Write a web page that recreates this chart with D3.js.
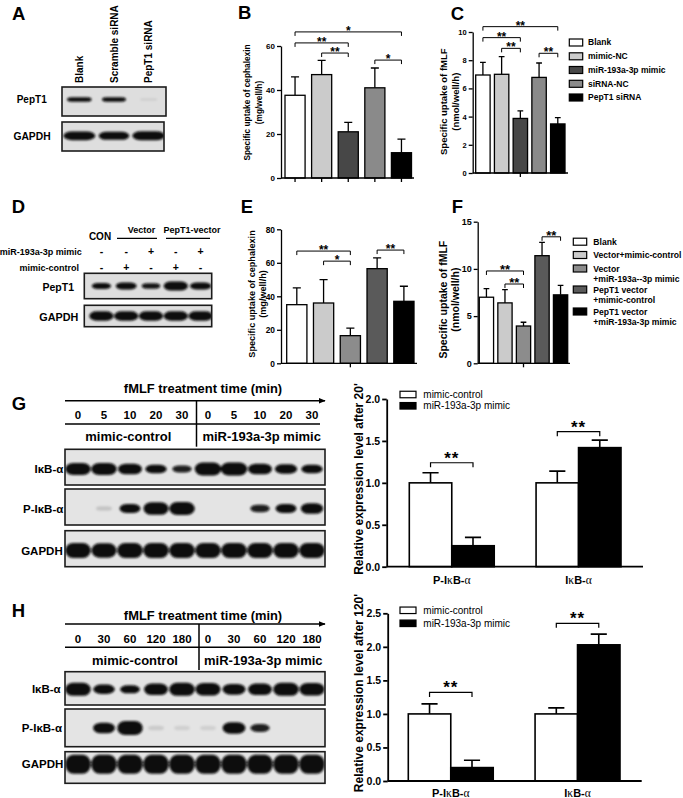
<!DOCTYPE html>
<html><head><meta charset="utf-8">
<script src="https://cdn.jsdelivr.net/npm/d3@7"></script>
<style>
body{margin:0;background:#fff;}
svg{display:block;font-family:"Liberation Sans",Arial,Helvetica,sans-serif;}
</style></head><body>
<svg id="fig" width="683" height="798"></svg>
<script>
// ================= DATA =================
// Panel A blot
const laneA = ["Blank", "Scramble  siRNA", "PepT1 siRNA"];
const blotA_PepT1 = [0.7, 0.65, 0.04];
const blotA_GAPDH = [0.95, 0.85, 1.0];
// Panel B / C (uptake, knock-down)
const groupsBC = ["Blank", "mimic-NC", "miR-193a-3p mimic", "siRNA-NC", "PepT1 siRNA"];
const cephalexinB = [37.6, 47, 21, 41, 11.5];
const cephalexinBErr = [8.4, 6.5, 4.3, 9, 6.2];
const sigB = [[0, 4, 66.4, "*"], [0, 2, 61.4, "**"], [1, 2, 56.8, "**"], [3, 4, 53.6, "*"]];
const fmlfC = [6.95, 7.0, 3.87, 6.78, 3.48];
const fmlfCErr = [0.9, 1.25, 0.53, 1.02, 0.45];
const sigC = [[0, 4, 10.38, "**"], [0, 2, 9.6, "**"], [1, 2, 8.84, "**"], [3, 4, 8.49, "**"]];
const ticksB = [0, 20, 40, 60];
const ticksC = [0, 2, 4, 6, 8, 10];
// Panel D blot
const blotD_mimic = ["-", "-", "+", "-", "+"];
const blotD_control = ["-", "+", "-", "+", "-"];
const blotD_PepT1 = [0.5, 0.65, 0.42, 1.0, 0.7];
const blotD_GAPDH = [1, 1, 1, 1, 1];
// Panel E / F (uptake, over-expression)
const groupsEF = ["Blank", "Vector+mimic-control", ["Vector", "+miR-193a--3p mimic"], ["PepT1 vector", "+mimic-control"], ["PepT1 vector", "+miR-193a-3p mimic"]];
const cephalexinE = [35, 36, 16.5, 56.5, 37];
const cephalexinEErr = [10, 14, 4.5, 6.5, 9];
const sigE = [[0, 2, 67, "**"], [1, 2, 61, "*"], [3, 4, 67.6, "**"]];
const fmlfF = [7.0, 6.4, 3.95, 11.4, 7.25];
const fmlfFErr = [0.9, 1.4, 0.4, 1.4, 1.0];
const sigF = [[0, 2, 9.78, "**"], [1, 2, 8.4, "**"], [3, 4, 13.4, "**"]];
const ticksE = [0, 20, 40, 60, 80];
const ticksF = [0, 5, 10, 15];
// Panel G blot (20 min series)
const timeG = ["0", "5", "10", "20", "30", "0", "5", "10", "20", "30"];
const blotG_IkB = [1.0, 1.0, 0.85, 0.6, 0.4, 1.1, 1.1, 0.85, 0.7, 0.6];
const blotG_pIkB = [0, 0.06, 0.55, 0.95, 1.0, 0, 0, 0.4, 0.55, 0.7];
const blotG_GAPDH = [1, 0.95, 1, 1, 1, 1, 1, 1, 1, 1];
// Panel H blot (120 min series)
const timeH = ["0", "30", "60", "120", "180", "0", "30", "60", "120", "180"];
const blotH_IkB = [1.0, 0.6, 0.45, 0.85, 1.0, 0.95, 0.75, 0.85, 1.0, 0.95];
const blotH_pIkB = [0, 0.65, 1.0, 0.05, 0.04, 0.04, 0.75, 0.4, 0, 0];
const blotH_GAPDH = [1, 1, 1, 1, 1, 1, 1, 1, 1, 1];
const treatGroups = ["mimic-control", "miR-193a-3p mimic"];
// Panel G / H quantification
const exprCats = ["P-IκB-α", "IκB-α"];
const exprSeries = ["mimic-control", "miR-193a-3p mimic"];
const g20Control = [1.0, 1.0];
const g20ControlErr = [0.12, 0.14];
const g20Mimic = [0.25, 1.42];
const g20MimicErr = [0.1, 0.09];
const sigG = [[0, 1.24, "**"], [1, 1.61, "**"]];
const h120Control = [1.0, 1.0];
const h120ControlErr = [0.15, 0.09];
const h120Mimic = [0.2, 2.03];
const h120MimicErr = [0.11, 0.16];
const sigH = [[0, 1.32, "**"], [1, 2.35, "**"]];
const ticksG = [0, 0.5, 1.0, 1.5, 2.0];
const ticksH = [0, 0.5, 1.0, 1.5, 2.0, 2.5];

// ================= DRAWING =================
const FONT = '"Liberation Sans", Arial, Helvetica, sans-serif';
const SERIF = '"Liberation Serif", "DejaVu Serif", serif';
const svg = d3.select("#fig");
const defs = svg.append("defs");
defs.append("filter").attr("id", "blur").attr("x", "-30%").attr("y", "-80%").attr("width", "160%").attr("height", "260%")
  .append("feGaussianBlur").attr("stdDeviation", 1.0);
defs.append("marker").attr("id", "arrow").attr("viewBox", "0 0 10 10").attr("refX", 9).attr("refY", 5)
  .attr("markerWidth", 7).attr("markerHeight", 7).attr("markerUnits", "userSpaceOnUse").attr("orient", "auto")
  .append("path").attr("d", "M0,1 L10,5 L0,9 z").attr("fill", "#000");

function text(x, y, s, fs, opt = {}) {
  return svg.append("text").attr("x", x).attr("y", y).attr("font-size", fs)
    .attr("font-weight", opt.weight || "bold").attr("text-anchor", opt.anchor || "start")
    .attr("fill", "#000").text(s);
}
function letter(s, x, y) { text(x, y, s, 18.5); }
function yLabel(lines, xs, cy, fs, weight) {
  lines.forEach((l, i) => {
    svg.append("text").attr("transform", `translate(${xs[i]},${cy}) rotate(-90)`)
      .attr("text-anchor", "middle").attr("dy", "0.35em").attr("font-size", fs)
      .attr("font-weight", weight || "bold").text(l);
  });
}
function greekLabel(sel, s) {
  const parts = s.split(/([κα])/).filter(p => p.length);
  parts.forEach(p => {
    const t = sel.append("tspan").text(p);
    if (p === "κ" || p === "α") t.attr("font-family", SERIF).attr("font-weight", "normal").attr("font-size", "1.05em");
  });
}
function styleAxis(a, sw, fs) {
  a.attr("font-family", FONT);
  a.select(".domain").attr("stroke", "#000").attr("stroke-width", sw);
  a.selectAll(".tick line").attr("stroke", "#000").attr("stroke-width", sw);
  a.selectAll(".tick text").attr("font-size", fs).attr("font-weight", "bold").attr("fill", "#000");
}

function uptakeChart(c) {
  const g = svg.append("g");
  const x = d3.scaleBand().domain(d3.range(c.values.length)).range([c.x0, c.x1]).paddingInner(c.pad);
  const y = d3.scaleLinear().domain([0, c.max]).range([c.yb, c.yt]);
  const bw = x.bandwidth();
  g.selectAll(".err").data(c.values).join("path")
    .attr("d", (d, i) => {
      const cx = x(i) + bw / 2, top = y(d + c.errs[i]), cw = bw * 0.2;
      return `M${cx},${y(d)}V${top}M${cx - cw},${top}H${cx + cw}`;
    })
    .attr("stroke", "#000").attr("stroke-width", c.sw).attr("fill", "none");
  g.selectAll(".bar").data(c.values).join("rect")
    .attr("x", (d, i) => x(i)).attr("y", d => y(d)).attr("width", bw).attr("height", d => y(0) - y(d))
    .attr("fill", (d, i) => c.colors[i]).attr("stroke", "#000").attr("stroke-width", c.sw);
  const ay = g.append("g").attr("transform", `translate(${c.ax},0)`)
    .call(d3.axisLeft(y).tickValues(c.ticks).tickSize(4).tickSizeOuter(0).tickPadding(2).tickFormat(d3.format("d")));
  styleAxis(ay, c.sw, c.fs);
  const ax = g.append("g").attr("transform", `translate(0,${y(0)})`)
    .call(d3.axisBottom(x).tickValues(c.xTicks).tickSize(4).tickFormat(""));
  ax.select(".domain").remove();
  ax.selectAll(".tick line").attr("stroke", "#000").attr("stroke-width", c.sw);
  g.append("line").attr("x1", c.ax).attr("x2", c.xEnd).attr("y1", y(0)).attr("y2", y(0))
    .attr("stroke", "#000").attr("stroke-width", c.sw);
  c.sig.forEach(s => {
    const xa = x(s[0]) + bw / 2, xb = x(s[1]) + bw / 2, yy = y(s[2]);
    g.append("path").attr("d", `M${xa},${yy + 4}V${yy}H${xb}V${yy + 4}`)
      .attr("fill", "none").attr("stroke", "#000").attr("stroke-width", 1);
    g.append("text").attr("x", (xa + xb) / 2).attr("y", yy + c.starDy).attr("text-anchor", "middle")
      .attr("font-size", c.starFs).attr("font-weight", "bold").text(s[3]);
  });
}

function legend(items, colors, bx, ys, tx, fs, bw, bh, weight, subGap) {
  items.forEach((it, i) => {
    svg.append("rect").attr("x", bx).attr("y", ys[i] - bh / 2).attr("width", bw).attr("height", bh)
      .attr("fill", colors[i]).attr("stroke", "#000").attr("stroke-width", 1.2);
    const lines = Array.isArray(it) ? it : [it];
    lines.forEach((l, j) => {
      svg.append("text").attr("x", tx).attr("y", ys[i] + j * subGap).attr("dy", "0.35em")
        .attr("font-size", fs).attr("font-weight", weight).text(l);
    });
  });
}

let clipN = 0;
function blot(c) {
  const g = svg.append("g");
  const id = "clip" + (clipN++);
  defs.append("clipPath").attr("id", id).append("rect")
    .attr("x", c.x0).attr("y", c.y0).attr("width", c.x1 - c.x0).attr("height", c.y1 - c.y0);
  g.append("rect").attr("x", c.x0).attr("y", c.y0).attr("width", c.x1 - c.x0).attr("height", c.y1 - c.y0)
    .attr("fill", c.bg || "#e2e2e2");
  const x = d3.scaleBand().domain(d3.range(c.values.length)).range(c.lanes);
  const bw = x.bandwidth();
  const bands = g.append("g").attr("clip-path", `url(#${id})`).append("g").attr("filter", "url(#blur)");
  bands.selectAll("rect").data(c.values).join("rect")
    .attr("width", v => bw * c.wf * (0.6 + 0.4 * Math.min(v, 1.1)))
    .attr("height", v => c.bh * (0.3 + 0.7 * v))
    .attr("x", (v, i) => x(i) + bw / 2 - bw * c.wf * (0.6 + 0.4 * Math.min(v, 1.1)) / 2)
    .attr("y", v => c.cy - c.bh * (0.3 + 0.7 * v) / 2)
    .attr("rx", v => Math.min(bw * 0.3, c.bh * (0.3 + 0.7 * v)))
    .attr("ry", v => c.bh * (0.3 + 0.7 * v) / 2)
    .attr("fill", "#0c0c0c").attr("opacity", v => Math.min(1, v * 2.3));
  g.append("rect").attr("x", c.x0).attr("y", c.y0).attr("width", c.x1 - c.x0).attr("height", c.y1 - c.y0)
    .attr("fill", "none").attr("stroke", "#1c1c1c").attr("stroke-width", 1.6);
  return x;
}

function exprChart(c) {
  const g = svg.append("g");
  const x = d3.scaleBand().domain(d3.range(exprCats.length)).range([c.x0, c.x1]).paddingInner(c.pad);
  const xs = d3.scaleBand().domain([0, 1]).range([0, x.bandwidth()]);
  const y = d3.scaleLinear().domain([0, c.max]).range([c.yb, c.yt]);
  const bw = xs.bandwidth();
  const series = [{ v: c.ctrl, e: c.ctrlErr, fill: "#fff" }, { v: c.mimic, e: c.mimicErr, fill: "#000" }];
  series.forEach((s, si) => {
    g.selectAll(null).data(s.v).join("path")
      .attr("d", (d, i) => {
        const cx = x(i) + xs(si) + bw / 2, top = y(d + s.e[i]), cw = bw * 0.19;
        return `M${cx},${y(d)}V${top}M${cx - cw},${top}H${cx + cw}`;
      })
      .attr("stroke", "#000").attr("stroke-width", 1.6).attr("fill", "none");
    g.selectAll(null).data(s.v).join("rect")
      .attr("x", (d, i) => x(i) + xs(si)).attr("y", d => y(d)).attr("width", bw).attr("height", d => y(0) - y(d))
      .attr("fill", s.fill).attr("stroke", "#000").attr("stroke-width", 1.6);
  });
  const ay = g.append("g").attr("transform", `translate(${c.ax},0)`)
    .call(d3.axisLeft(y).tickValues(c.ticks).tickSize(4.5).tickSizeOuter(0).tickPadding(2).tickFormat(d3.format(".1f")));
  styleAxis(ay, 1.8, 10.5);
  g.append("line").attr("x1", c.ax).attr("x2", c.xEnd).attr("y1", y(0)).attr("y2", y(0))
    .attr("stroke", "#000").attr("stroke-width", 1.8);
  exprCats.forEach((cat, i) => {
    const t = g.append("text").attr("x", x(i) + x.bandwidth() / 2).attr("y", c.catY)
      .attr("text-anchor", "middle").attr("font-size", 11).attr("font-weight", "bold");
    greekLabel(t, cat);
  });
  c.sig.forEach(s => {
    const xa = x(s[0]) + xs(0) + bw / 2, xb = x(s[0]) + xs(1) + bw / 2, yy = y(s[1]);
    g.append("path").attr("d", `M${xa},${yy + 4.5}V${yy}H${xb}V${yy + 4.5}`)
      .attr("fill", "none").attr("stroke", "#000").attr("stroke-width", 1.2);
    g.append("text").attr("x", (xa + xb) / 2).attr("y", yy + 1).attr("text-anchor", "middle")
      .attr("font-size", 17).attr("letter-spacing", 1).attr("font-weight", "bold").text(s[2]);
  });
  legend(exprSeries, ["#fff", "#000"], 400, c.legY, 423.3, 10, 16, 6.5, "normal", 0);
  yLabel([c.label], [358.3], c.labelY, 12, "bold");
}

// ---------- Panel A ----------
letter("A", 12, 20);
const xA = blot({ x0: 62, x1: 166, y0: 87, y1: 116, lanes: [62, 166], values: blotA_PepT1, cy: 99.5, bh: 5.7, wf: 0.8, bg: "#dedede" });
blot({ x0: 62, x1: 164, y0: 122, y1: 151, lanes: [62, 166], values: blotA_GAPDH, cy: 135.8, bh: 9, wf: 0.94, bg: "#dedede" });
laneA.forEach((l, i) => {
  svg.append("text").attr("transform", `translate(${xA(i) + xA.bandwidth() / 2},83) rotate(-90)`)
    .attr("dy", "0.35em").attr("font-size", 10).attr("font-weight", "bold").text(l);
});
text(31.7, 102.7, "PepT1", 10, { anchor: "middle" });
text(32, 139.5, "GAPDH", 10.3, { anchor: "middle" });

// ---------- Panel B ----------
letter("B", 238, 19);
uptakeChart({ values: cephalexinB, errs: cephalexinBErr, colors: ["#fff", "#cbcbcb", "#474747", "#8a8a8a", "#000"],
  x0: 285, x1: 411.5, pad: 0.245, yb: 178, yt: 46, max: 60, ax: 281, xEnd: 414, ticks: ticksB, fs: 8, sw: 1.3,
  xTicks: [0, 1, 2, 3, 4], sig: sigB, starFs: 12, starDy: 3 });
yLabel(["Specific uptake of cephalexin", "(mg/well/h)"], [246.7, 259.5], 102.5, 8.3, "bold");

// ---------- Panel C ----------
letter("C", 450.7, 20);
uptakeChart({ values: fmlfC, errs: fmlfCErr, colors: ["#fff", "#cbcbcb", "#474747", "#8a8a8a", "#000"],
  x0: 475.7, x1: 565, pad: 0.23, yb: 173, yt: 32, max: 10, ax: 472.7, xEnd: 568, ticks: ticksC, fs: 7.5, sw: 1.3,
  xTicks: [2], sig: sigC, starFs: 12, starDy: 3 });
yLabel(["Specific uptake of fMLF", "(nmol/well/h)"], [443.3, 455.5], 101.7, 9.5, "bold");
legend(groupsBC, ["#fff", "#cbcbcb", "#474747", "#8a8a8a", "#000"], 569.3, [42.5, 56.3, 70, 83.8, 97.5], 588, 8.5, 13.4, 7, "bold", 0);

// ---------- Panel D ----------
letter("D", 11.7, 213.3);
const xD = blot({ x0: 84.3, x1: 211.7, y0: 273.3, y1: 298.7, lanes: [89, 213], values: blotD_PepT1, cy: 286, bh: 9, wf: 0.98, bg: "#dedede" });
blot({ x0: 84.3, x1: 211.7, y0: 305.3, y1: 326.7, lanes: [89, 213], values: blotD_GAPDH, cy: 316, bh: 9.5, wf: 0.98, bg: "#dedede" });
text(100, 240, "CON", 10, { anchor: "middle" });
text(141.5, 233.3, "Vector", 9, { anchor: "middle" });
text(192, 233.3, "PepT1-vector", 9, { anchor: "middle" });
svg.append("line").attr("x1", 117).attr("x2", 157).attr("y1", 238.3).attr("y2", 238.3).attr("stroke", "#000").attr("stroke-width", 1.2);
svg.append("line").attr("x1", 166).attr("x2", 210).attr("y1", 238.3).attr("y2", 238.3).attr("stroke", "#000").attr("stroke-width", 1.2);
text(81.7, 255, "miR-193a-3p mimic", 9, { anchor: "end" });
text(79, 270.5, "mimic-control", 9, { anchor: "end" });
blotD_mimic.forEach((s, i) => text(xD(i) + xD.bandwidth() / 2, 255, s, 10.5, { anchor: "middle" }));
blotD_control.forEach((s, i) => text(xD(i) + xD.bandwidth() / 2, 270.5, s, 10.5, { anchor: "middle" }));
text(58.3, 291, "PepT1", 10.5, { anchor: "middle" });
text(58.8, 321, "GAPDH", 10.8, { anchor: "middle" });

// ---------- Panel E ----------
letter("E", 240.7, 212.7);
uptakeChart({ values: cephalexinE, errs: cephalexinEErr, colors: ["#fff", "#cbcbcb", "#8c8c8c", "#5a5a5a", "#000"],
  x0: 286.7, x1: 414, pad: 0.245, yb: 363.3, yt: 229.3, max: 80, ax: 281, xEnd: 417, ticks: ticksE, fs: 8.4, sw: 1.3,
  xTicks: [2], sig: sigE, starFs: 12, starDy: 3 });
yLabel(["Specific uptake of cephalexin", "(mg/well/h)"], [251.7, 262.7], 294, 9.1, "bold");

// ---------- Panel F ----------
letter("F", 451.7, 212.7);
uptakeChart({ values: fmlfF, errs: fmlfFErr, colors: ["#fff", "#cbcbcb", "#8c8c8c", "#5a5a5a", "#000"],
  x0: 479.3, x1: 567.7, pad: 0.23, yb: 363.3, yt: 221.7, max: 15, ax: 477.7, xEnd: 570, ticks: ticksF, fs: 9, sw: 1.3,
  xTicks: [2], sig: sigF, starFs: 13, starDy: 3 });
yLabel(["Specific uptake of fMLF", "(nmol/well/h)"], [443.3, 455.5], 299.7, 10.5, "bold");
legend(groupsEF, ["#fff", "#cbcbcb", "#8c8c8c", "#5a5a5a", "#000"], 573.3, [241.7, 255, 268.5, 289.5, 311.5], 593.3, 8.6, 13.4, 7, "bold", 10);

// ---------- Panel G / H blots ----------
function timeBlot(cfg) {
  letter(cfg.letter, 11.7, cfg.letterY);
  text(203, cfg.titleY, "fMLF treatment time (min)", 12.9, { anchor: "middle" });
  svg.append("line").attr("x1", 65).attr("x2", 325).attr("y1", cfg.arrowY).attr("y2", cfg.arrowY)
    .attr("stroke", "#000").attr("stroke-width", 1.5).attr("marker-end", "url(#arrow)");
  const x = blot({ x0: 65, x1: 325, y0: cfg.rows[0][0], y1: cfg.rows[0][1], lanes: [65, 325], values: cfg.ikb, cy: cfg.rows[0][2], bh: cfg.rows[0][3], wf: 0.98, bg: "#e4e4e4" });
  blot({ x0: 65, x1: 325, y0: cfg.rows[1][0], y1: cfg.rows[1][1], lanes: [65, 325], values: cfg.pikb, cy: cfg.rows[1][2], bh: cfg.rows[1][3], wf: 0.98, bg: "#e4e4e4" });
  blot({ x0: 65, x1: 325, y0: cfg.rows[2][0], y1: cfg.rows[2][1], lanes: [65, 325], values: cfg.gapdh, cy: cfg.rows[2][2], bh: cfg.rows[2][3], wf: 0.98, bg: "#e4e4e4" });
  cfg.times.forEach((t, i) => text(x(i) + x.bandwidth() / 2, cfg.numY, t, 11.5, { anchor: "middle" }));
  svg.append("line").attr("x1", 65).attr("x2", 320).attr("y1", cfg.lineY).attr("y2", cfg.lineY).attr("stroke", "#000").attr("stroke-width", 1.5);
  svg.append("line").attr("x1", cfg.divX).attr("x2", cfg.divX).attr("y1", cfg.arrowY).attr("y2", cfg.divY2).attr("stroke", "#000").attr("stroke-width", 1.5);
  text(cfg.grpX[0], cfg.grpY, treatGroups[0], 13, { anchor: "middle" });
  text(cfg.grpX[1], cfg.grpY, treatGroups[1], 13, { anchor: "middle" });
  text(cfg.labX[0], cfg.rows[0][2] + 4, "IκB-α", 11.5, { anchor: "end" });
  text(cfg.labX[1], cfg.rows[1][2] + 4, "P-IκB-α", 11.5, { anchor: "end" });
  text(cfg.labX[2], cfg.rows[2][2] + 4, "GAPDH", 11.5, { anchor: "end" });
}
timeBlot({ letter: "G", letterY: 410, titleY: 393, arrowY: 400.7, numY: 419.3, lineY: 424, divX: 196.5, divY2: 446.7,
  grpX: [128.3, 261.7], grpY: 441, labX: [63.3, 63.3, 62.7], times: timeG,
  ikb: blotG_IkB, pikb: blotG_pIkB, gapdh: blotG_GAPDH,
  rows: [[449.3, 485, 469, 12], [489, 525, 508.5, 13], [530.7, 566.7, 550.5, 15]] });
timeBlot({ letter: "H", letterY: 616.7, titleY: 620, arrowY: 624, numY: 642.5, lineY: 647.3, divX: 199, divY2: 670,
  grpX: [135, 263.3], grpY: 665, labX: [60.7, 62, 63.3], times: timeH,
  ikb: blotH_IkB, pikb: blotH_pIkB, gapdh: blotH_GAPDH,
  rows: [[671.7, 705, 689.3, 13], [709, 746.7, 728, 14], [751.7, 783.3, 764.3, 19]] });

// ---------- G / H quantification ----------
exprChart({ ctrl: g20Control, ctrlErr: g20ControlErr, mimic: g20Mimic, mimicErr: g20MimicErr, sig: sigG,
  x0: 409.3, x1: 621, pad: 0.33, yb: 566.7, yt: 399, max: 2.0, ax: 386.7, xEnd: 643, ticks: ticksG,
  catY: 584, legY: [394.5, 405.8], label: "Relative expression level after 20'", labelY: 479 });
exprChart({ ctrl: h120Control, ctrlErr: h120ControlErr, mimic: h120Mimic, mimicErr: h120MimicErr, sig: sigH,
  x0: 408.3, x1: 620, pad: 0.33, yb: 781, yt: 613.3, max: 2.5, ax: 387.7, xEnd: 641.7, ticks: ticksH,
  catY: 797, legY: [610.3, 623.3], label: "Relative expression level after 120'", labelY: 693 });
</script>
</body></html>
